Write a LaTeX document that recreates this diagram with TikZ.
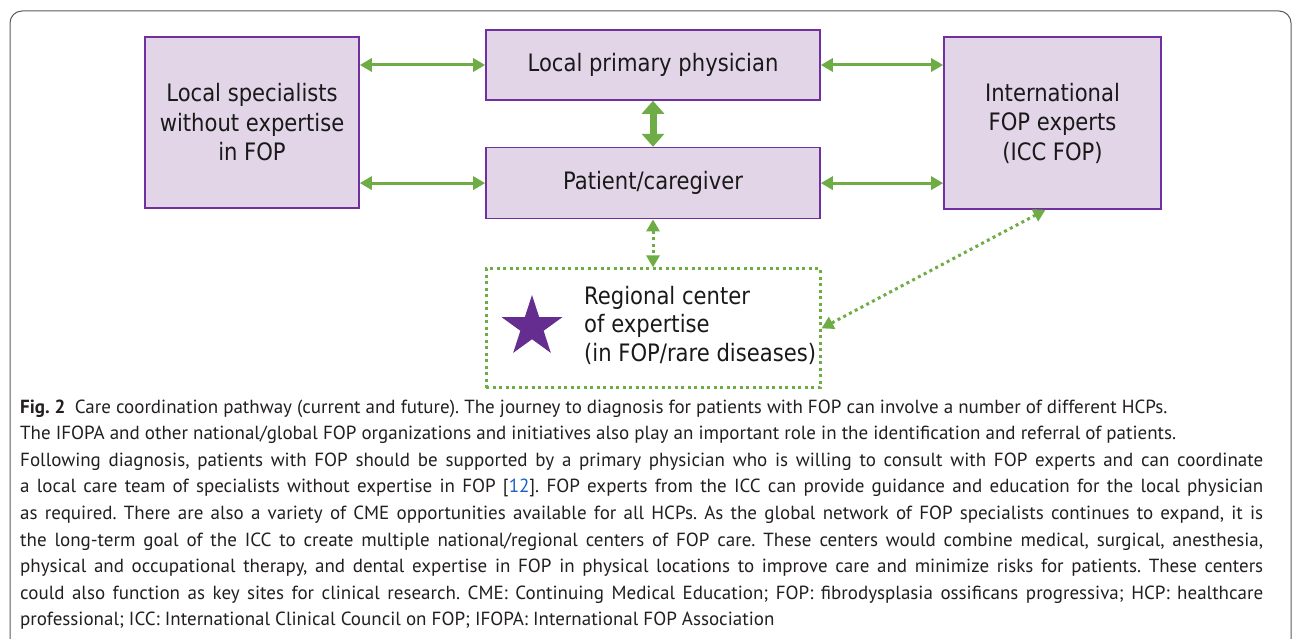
\documentclass[tikz,border=0pt]{standalone}
\usepackage{fontspec}
\setmainfont{PT Sans}
\newfontfamily\boxfont[FakeStretch=0.88]{DejaVu Sans}
\usetikzlibrary{positioning,arrows.meta,shapes.geometric}

\definecolor{boxfill}{HTML}{E1D5E7}
\definecolor{boxline}{HTML}{7030A0}
\definecolor{linkgreen}{HTML}{6EAC45}
\definecolor{starpurple}{HTML}{662D91}
\definecolor{refblue}{HTML}{1A5FC8}
\definecolor{framegray}{HTML}{5A5A5A}
\definecolor{captext}{HTML}{231F20}

% a caption line set flush to both margins
\newcommand\fullline[1]{\hbox to 1243pt{#1}}

\begin{document}
\begin{tikzpicture}[
    x=1pt, y=-1pt,
    carebox/.style={
        rectangle,
        draw=boxline,
        fill=boxfill,
        line width=1.6pt,
        align=center,
        inner sep=0pt,
        text=black!90,
        font=\boxfont\fontsize{24}{29.5}\selectfont
    },
    link/.style={
        draw=linkgreen, line width=3pt,
        {Triangle[length=12pt,width=13pt]}-{Triangle[length=12pt,width=13pt]}
    },
    thicklink/.style={
        draw=linkgreen, line width=7pt,
        {Triangle[length=13pt,width=22pt]}-{Triangle[length=13pt,width=22pt]}
    },
    softlink/.style={
        draw=linkgreen, line width=3pt, dash pattern=on 3pt off 3.5pt,
        {Triangle[length=12pt,width=13pt]}-{Triangle[length=12pt,width=13pt]}
    },
    caption/.style={
        anchor=base west, inner sep=0pt, text=captext,
        font=\fontsize{19}{22}\selectfont\frenchspacing
    },
    node distance=46pt
]
    \useasboundingbox (0,0) rectangle (1293,639);

    % outer frame round the figure and its caption
    \draw[framegray, line width=1pt, rounded corners=12pt]
        (10,639) -- (10,11) -- (1291,11) -- (1291,639);

    % the four care boxes
    \node[carebox, minimum width=334pt, minimum height=70pt] (phys) at (653,65)
        {Local primary physician};
    \node[carebox, minimum width=334pt, minimum height=71pt, below=of phys] (patient)
        {Patient/caregiver};
    \node[carebox, minimum width=214pt, minimum height=171pt] (lspec) at (252,122.5)
        {Local specialists\\without expertise\\in FOP};
    \node[carebox, minimum width=217pt, minimum height=172pt] (icc) at (1052.5,123)
        {International\\FOP experts\\(ICC FOP)};

    % regional center (future)
    \node[rectangle, draw=linkgreen, line width=3pt, dash pattern=on 3pt off 3.5pt,
          minimum width=334pt, minimum height=119pt, below=48pt of patient] (region) {};
    \node[star, star points=5, star point ratio=2.618, fill=starpurple,
          minimum size=64pt, inner sep=0pt] (badge) at (532,327) {};
    \node[anchor=west, align=left, inner sep=0pt, text=black!90,
          font=\boxfont\fontsize{24}{28.5}\selectfont] (regtext) at (584,325)
        {Regional center\\of expertise\\(in FOP/rare diseases)};

    % connections
    \draw[link] (lspec.east |- phys.west) -- (phys.west);
    \draw[link] (lspec.east |- patient.west) -- (patient.west);
    \draw[link] (phys.east) -- (icc.west |- phys.east);
    \draw[link] (patient.east) -- (icc.west |- patient.east);
    \draw[thicklink] (phys.south) -- (patient.north);
    \draw[softlink] (patient.south) -- (region.north);
    \draw[softlink] ([xshift=-7pt]icc.south) -- (region.east);

    % caption
    \foreach \txt [count=\i] in {
        {\textbf{Fig. 2}\hspace{0.5em}Care coordination pathway (current and future). The journey to diagnosis for patients with FOP can involve a number of different HCPs.},
        {The IFOPA and other national/global FOP organizations and initiatives also play an important role in the identification and referral of patients.},
        {\fullline{Following diagnosis, patients with FOP should be supported by a primary physician who is willing to consult with FOP experts and can coordinate}},
        {\fullline{a local care team of specialists without expertise in FOP [\textcolor{refblue}{12}]. FOP experts from the ICC can provide guidance and education for the local physician}},
        {\fullline{as required. There are also a variety of CME opportunities available for all HCPs. As the global network of FOP specialists continues to expand, it is}},
        {\fullline{the long-term goal of the ICC to create multiple national/regional centers of FOP care. These centers would combine medical, surgical, anesthesia,}},
        {\fullline{physical and occupational therapy, and dental expertise in FOP in physical locations to improve care and minimize risks for patients. These centers}},
        {\fullline{could also function as key sites for clinical research. CME: Continuing Medical Education; FOP: fibrodysplasia ossificans progressiva; HCP: healthcare}},
        {professional; ICC: International Clinical Council on FOP; IFOPA: International FOP Association}
    }
        \node[caption] (cap\i) at (20,{413+26.6*(\i-1)}) {\txt};
\end{tikzpicture}
\end{document}
